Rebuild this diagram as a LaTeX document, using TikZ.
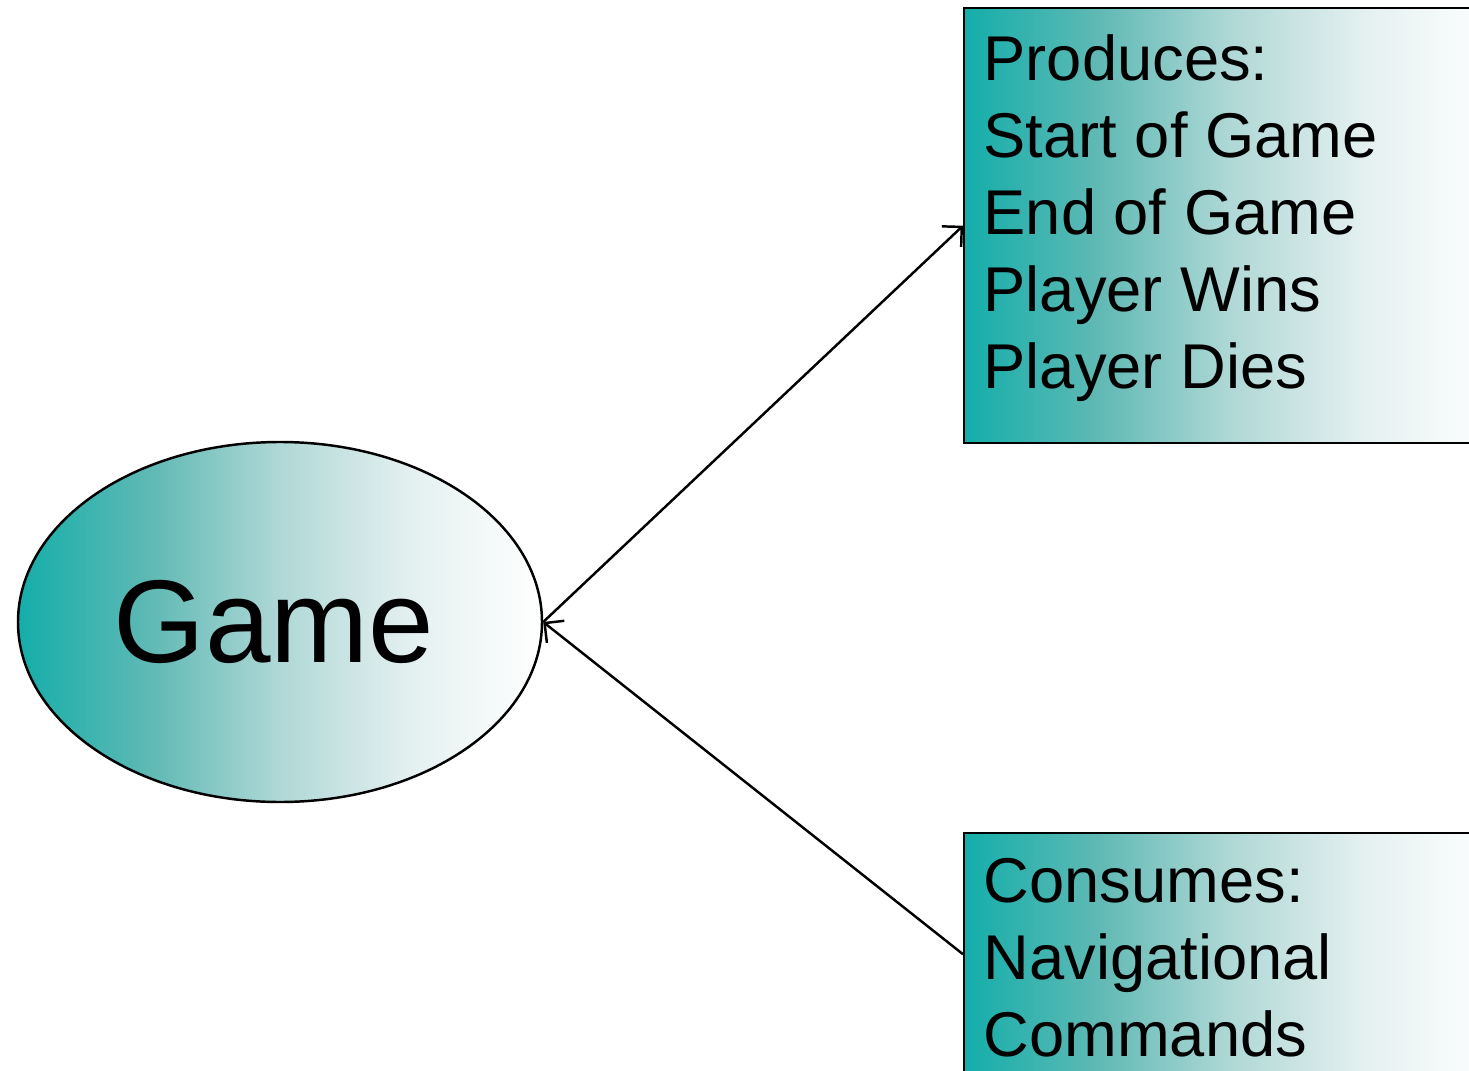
\documentclass[tikz,border=0pt]{standalone}
\usepackage{fontspec}
\setmainfont{Liberation Sans}
\usetikzlibrary{shapes.geometric,arrows.meta}
\pgfdeclarehorizontalshading{gamefade}{100bp}{rgb(0bp)=(0.078,0.682,0.667); rgb(25bp)=(0.078,0.682,0.667);
  rgb(37.5bp)=(0.373,0.725,0.706); rgb(50bp)=(0.686,0.847,0.839); rgb(62.5bp)=(0.894,0.941,0.941);
  rgb(75bp)=(1,1,1); rgb(100bp)=(1,1,1)}
\begin{document}
\begin{tikzpicture}[ every node/.style={font=\fontsize{18}{21.9}\selectfont},
  shaded/.style={draw=black, line width=0.7pt, shading=gamefade},
  >={Straight Barb[length=4pt,width=8pt]}]
\useasboundingbox (0,0) rectangle (14.69,10.70);
% Game ellipse
\node[shaded, ellipse, minimum width=5.24cm, minimum height=3.60cm, font=\fontsize{33.5}{40}\selectfont] (game) at (2.80,4.48) {Game\kern0.12cm};
% Produced events
\node[shaded, rectangle, anchor=north west, minimum width=5.32cm, minimum height=4.35cm] (produces) at (9.63,10.63) {};
\node[anchor=north west, align=left, inner sep=0pt] (producestext) at (9.83,10.36)
  {Produces:\\Start of Game\\End of Game\\Player Wins\\Player Dies};
% Consumed events
\node[shaded, rectangle, anchor=north west, minimum width=5.32cm, minimum height=2.42cm] (consumes) at (9.63,2.38) {};
\node[anchor=north west, align=left, inner sep=0pt] (consumestext) at (9.83,2.12)
  {Consumes:\\Navigational\\Commands};
% Connectors
\draw[line width=0.7pt, ->] (game.east) -- (produces.west);
\draw[line width=0.7pt, ->] (consumes.west) -- (game.east);
\end{tikzpicture}
\end{document}
